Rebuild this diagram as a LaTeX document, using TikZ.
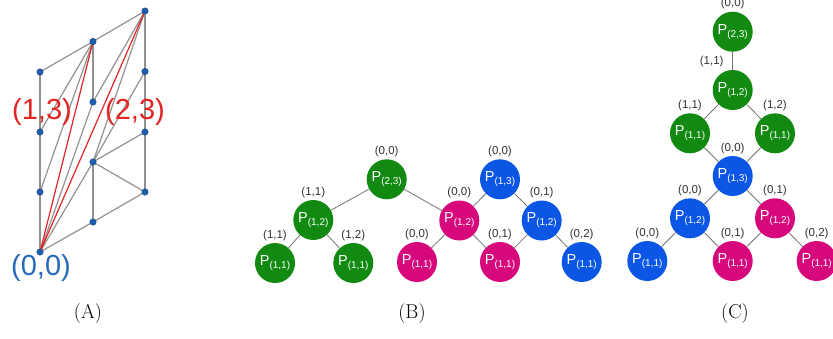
\documentclass[tikz,border=0pt]{standalone}
\usepackage{fontspec}
\newfontfamily\arial{Liberation Sans}
\usepackage{xcolor}
\definecolor{TreeGreen}{RGB}{18, 138, 18}
\definecolor{TreeBlue}{RGB}{12, 86, 230}
\definecolor{TreeMagenta}{RGB}{214, 8, 124}
\definecolor{EdgeGrey}{RGB}{115, 115, 115}
\definecolor{LatGrey}{RGB}{145, 145, 145}
\definecolor{LatRed}{RGB}{228, 36, 36}
\definecolor{LatBlue}{RGB}{40, 106, 186}
\definecolor{DotBlue}{RGB}{30, 94, 176}
\usepackage{tikz}
\usetikzlibrary{positioning}
\newcommand{\pname}[1]{P\raisebox{-0.4ex}{\fontsize{10}{10}\selectfont(#1)}}

\begin{document}
\begin{tikzpicture}[
  x=1pt, y=-1pt,
  pnode/.style={circle, minimum size=40pt, inner sep=0pt, text=white,
    font=\arial\fontsize{14.5}{16}\selectfont},
  gnode/.style={pnode, fill=TreeGreen},
  bnode/.style={pnode, fill=TreeBlue},
  mnode/.style={pnode, fill=TreeMagenta},
  lab/.style={font=\arial\fontsize{11.5}{12}\selectfont, text=black!80, inner sep=1pt},
  edge/.style={draw=EdgeGrey, line width=0.8pt},
  lat/.style={draw=LatGrey, line width=1.2pt},
  diag/.style={draw=LatRed, line width=1.2pt},
  dot/.style={circle, fill=DotBlue, draw=DotBlue!70!black, line width=0.4pt,
    minimum size=6.5pt, inner sep=0pt},
  biglab/.style={font=\arial\fontsize{29}{30}\selectfont, inner sep=0pt},
  captext/.style={font=\fontsize{20}{24}\selectfont}
]
  \useasboundingbox (0,0) rectangle (833,338);

  % (A) lattice
  \coordinate (a00) at (40,252);
  \coordinate (a01) at (40,192);
  \coordinate (a02) at (40,132);
  \coordinate (a03) at (40,72);
  \coordinate (a10) at (93,222);
  \coordinate (a11) at (93,162);
  \coordinate (a12) at (93,102);
  \coordinate (a13) at (93,41.5);
  \coordinate (a20) at (145,192);
  \coordinate (a21) at (145,132);
  \coordinate (a22) at (145,71.5);
  \coordinate (a23) at (145,11);

  \draw[lat] (a00) -- (a03);
  \draw[lat] (a20) -- (a23);
  \draw[lat] (a10) -- (a11);
  \draw[lat] (a12) -- (a13);
  \draw[lat] (a03) -- (a13) -- (a23);
  \draw[lat] (a00) -- (a10) -- (a20);
  \draw[lat] (a13) -- (a01);
  \draw[lat] (a13) -- (a02);
  \draw[lat] (a12) -- (a00);
  \draw[lat] (a12) -- (a23);
  \draw[lat] (a11) -- (a00);
  \draw[lat] (a11) -- (a20);
  \draw[lat] (a11) -- (a21);
  \draw[lat] (a11) -- (a22);
  \draw[lat] (a11) -- (a23);
  \draw[diag] (a00) -- (a13);
  \draw[diag] (a00) -- (a23);

  \node[dot] (d00) at (a00) {};
  \node[dot] (d01) at (a01) {};
  \node[dot] (d02) at (a02) {};
  \node[dot] (d03) at (a03) {};
  \node[dot] (d10) at (a10) {};
  \node[dot] (d11) at (a11) {};
  \node[dot] (d12) at (a12) {};
  \node[dot] (d13) at (a13) {};
  \node[dot] (d20) at (a20) {};
  \node[dot] (d21) at (a21) {};
  \node[dot] (d22) at (a22) {};
  \node[dot] (d23) at (a23) {};

  \node[biglab, text=LatRed]  (l13) at (42,112) {(1,3)};
  \node[biglab, text=LatRed]  (l23) at (135,112) {(2,3)};
  \node[biglab, text=LatBlue] (l00) at (41,268) {(0,0)};

  % (B) tree
  \node[gnode] (b23)  at (386.7,179.3) {\pname{2,3}};
  \node[gnode] (b12)  at (313.3,220)   {\pname{1,2}};
  \node[gnode] (b11a) at (275,263)     {\pname{1,1}};
  \node[gnode] (b11b) at (353.3,263)   {\pname{1,1}};
  \node[mnode] (b11c) at (417,262)     {\pname{1,1}};
  \node[bnode] (b13)  at (500,179.3)   {\pname{1,3}};
  \node[mnode] (b12m) at (459.3,220.5) {\pname{1,2}};
  \node[bnode] (b12b) at (541.7,220.5) {\pname{1,2}};
  \node[mnode] (b11d) at (500,262)     {\pname{1,1}};
  \node[bnode] (b11e) at (581.7,262)   {\pname{1,1}};

  \draw[edge] (b23) -- (b12);
  \draw[edge] (b23) -- (b12m);
  \draw[edge] (b12) -- (b11a);
  \draw[edge] (b12) -- (b11b);
  \draw[edge] (b13) -- (b12m);
  \draw[edge] (b13) -- (b12b);
  \draw[edge] (b12m) -- (b11c);
  \draw[edge] (b12m) -- (b11d);
  \draw[edge] (b12b) -- (b11d);
  \draw[edge] (b12b) -- (b11e);

  \node[lab, above=1pt of b23]  (lb23)  {(0,0)};
  \node[lab, above=1pt of b12]  (lb12)  {(1,1)};
  \node[lab, above=1pt of b11a] (lb11a) {(1,1)};
  \node[lab, above=1pt of b11b] (lb11b) {(1,2)};
  \node[lab, above=1pt of b11c] (lb11c) {(0,0)};
  \node[lab, above=1pt of b13]  (lb13)  {(0,0)};
  \node[lab, above=1pt of b12m] (lb12m) {(0,0)};
  \node[lab, above=1pt of b12b] (lb12b) {(0,1)};
  \node[lab, above=1pt of b11d] (lb11d) {(0,1)};
  \node[lab, above=1pt of b11e] (lb11e) {(0,2)};

  % (C) chain
  \node[gnode] (c23)  at (732.7,31.7) {\pname{2,3}};
  \node[gnode] (c12)  at (732.7,90)   {\pname{1,2}};
  \node[gnode] (c11a) at (690,133.3)  {\pname{1,1}};
  \node[gnode] (c11b) at (775,133.3)  {\pname{1,1}};
  \node[bnode] (c13)  at (732.7,176)  {\pname{1,3}};
  \node[bnode] (c12b) at (690,218.3)  {\pname{1,2}};
  \node[mnode] (c12m) at (775,218.3)  {\pname{1,2}};
  \node[bnode] (c11c) at (647.3,261)  {\pname{1,1}};
  \node[mnode] (c11d) at (732.7,261)  {\pname{1,1}};
  \node[mnode] (c11e) at (816.7,261)  {\pname{1,1}};

  \draw[edge] (c23) -- (c12);
  \draw[edge] (c12) -- (c11a);
  \draw[edge] (c12) -- (c11b);
  \draw[edge] (c11a) -- (c13);
  \draw[edge] (c11b) -- (c13);
  \draw[edge] (c13) -- (c12b);
  \draw[edge] (c13) -- (c12m);
  \draw[edge] (c12b) -- (c11c);
  \draw[edge] (c12b) -- (c11d);
  \draw[edge] (c12m) -- (c11d);
  \draw[edge] (c12m) -- (c11e);

  \node[lab, above=1pt of c23]  (lc23)  {(0,0)};
  \node[lab] (lc12) at ([shift={(-21,-28)}]c12.center) {(1,1)};
  \node[lab, above=1pt of c11a] (lc11a) {(1,1)};
  \node[lab, above=1pt of c11b] (lc11b) {(1,2)};
  \node[lab, above=1pt of c13]  (lc13)  {(0,0)};
  \node[lab, above=1pt of c12b] (lc12b) {(0,0)};
  \node[lab, above=1pt of c12m] (lc12m) {(0,1)};
  \node[lab, above=1pt of c11c] (lc11c) {(0,0)};
  \node[lab, above=1pt of c11d] (lc11d) {(0,1)};
  \node[lab, above=1pt of c11e] (lc11e) {(0,2)};

  % captions
  \node[captext] (capA) at (88,314)  {(A)};
  \node[captext] (capB) at (412,314) {(B)};
  \node[captext] (capC) at (735,314) {(C)};
\end{tikzpicture}
\end{document}
